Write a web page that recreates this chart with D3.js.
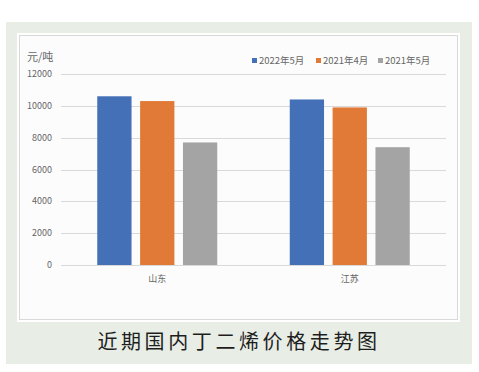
<!DOCTYPE html>
<html>
<head>
<meta charset="utf-8">
<script src="https://cdn.jsdelivr.net/npm/d3@7"></script>
<style>
  body { margin: 0; background: #fff; }
  svg { display: block; font-family: "Noto Sans CJK SC", "Noto Sans", sans-serif; }
</style>
</head>
<body>
<div id="chart"></div>
<script>
// data
var regions = ['山东', '江苏'];
var seriesNames = ['2022年5月', '2021年4月', '2021年5月'];
var seriesColors = ['#4470b8', '#e07a36', '#a5a4a4'];
var values2022May = [10600, 10400];
var values2021Apr = [10300, 9900];
var values2021May = [7700, 7400];
var yTicks = [0, 2000, 4000, 6000, 8000, 10000, 12000];

var seriesValues = [values2022May, values2021Apr, values2021May];

var width = 479, height = 372;
var plot = { left: 61, right: 446, top: 74, bottom: 265 };

var svg = d3.select('#chart')
	.append('svg')
	.attr('width', width)
	.attr('height', height);

// green panel + white chart box
svg.append('rect')
	.attr('x', 6).attr('y', 22)
	.attr('width', 466).attr('height', 342)
	.attr('fill', '#e8eee6');

svg.append('rect')
	.attr('x', 17).attr('y', 33)
	.attr('width', 443).attr('height', 289)
	.attr('fill', '#ffffff');

svg.append('rect')
	.attr('x', 19.5).attr('y', 35.5)
	.attr('width', 438).attr('height', 284)
	.attr('fill', '#fcfcfc')
	.attr('stroke', '#d9d9d9')
	.attr('stroke-width', 1);

var yScale = d3.scaleLinear()
	.domain([0, 12000])
	.range([plot.bottom, plot.top]);

var xScale = d3.scaleBand()
	.domain(regions)
	.range([plot.left, plot.right]);

var innerScale = d3.scaleBand()
	.domain(seriesNames)
	.range([0, 120])
	.paddingInner(0.2);

var groupOffset = (xScale.bandwidth() - 120) / 2;

// gridlines
svg.append('g')
	.selectAll('line')
	.data(yTicks)
	.enter()
	.append('line')
		.attr('x1', plot.left)
		.attr('x2', plot.right)
		.attr('y1', function(d) { return Math.round(yScale(d)) + 0.5 })
		.attr('y2', function(d) { return Math.round(yScale(d)) + 0.5 })
		.attr('stroke', '#d9d9d9')
		.attr('stroke-width', 1);

// y tick labels
svg.append('g')
	.selectAll('text')
	.data(yTicks)
	.enter()
	.append('text')
		.attr('x', 52)
		.attr('y', function(d) { return yScale(d) })
		.attr('dy', '0.35em')
		.attr('text-anchor', 'end')
		.attr('font-size', 9)
		.attr('fill', '#666')
		.text(function(d) { return d });

// bars
seriesValues.forEach(function(vals, s) {
	svg.append('g')
		.selectAll('rect')
		.data(vals)
		.enter()
		.append('rect')
			.attr('x', function(d, i) { return xScale(regions[i]) + groupOffset + innerScale(seriesNames[s]) })
			.attr('y', function(d) { return yScale(d) })
			.attr('width', innerScale.bandwidth())
			.attr('height', function(d) { return yScale(0) - yScale(d) })
			.attr('fill', seriesColors[s]);
});

// category labels
svg.append('g')
	.selectAll('text')
	.data(regions)
	.enter()
	.append('text')
		.attr('x', function(d) { return xScale(d) + xScale.bandwidth() / 2 })
		.attr('y', 279)
		.attr('dy', '0.35em')
		.attr('text-anchor', 'middle')
		.attr('font-size', 9)
		.attr('fill', '#666')
		.text(function(d) { return d });

// unit label
svg.append('text')
	.attr('x', 27)
	.attr('y', 57)
	.attr('dy', '0.35em')
	.attr('font-size', 11)
	.attr('fill', '#666')
	.text('元/吨');

// legend
var legendX = [252, 316, 378];
var legend = svg.append('g')
	.selectAll('g')
	.data(seriesNames)
	.enter()
	.append('g')
		.attr('transform', function(d, i) { return `translate(${legendX[i]}, 61)` });

legend.append('rect')
	.attr('x', 0).attr('y', -3)
	.attr('width', 5).attr('height', 5)
	.attr('fill', function(d, i) { return seriesColors[i] });

legend.append('text')
	.attr('x', 7)
	.attr('y', 0)
	.attr('dy', '0.35em')
	.attr('font-size', 9.5)
	.attr('fill', '#666')
	.text(function(d) { return d });

// caption
svg.append('text')
	.attr('x', 239)
	.attr('y', 342)
	.attr('dy', '0.35em')
	.attr('text-anchor', 'middle')
	.attr('font-size', 20)
	.attr('letter-spacing', 3.6)
	.attr('fill', '#1e1e1e')
	.text('近期国内丁二烯价格走势图');
</script>
</body>
</html>
